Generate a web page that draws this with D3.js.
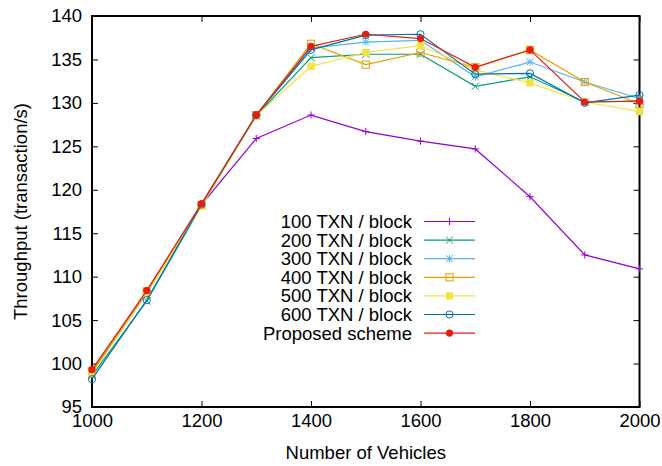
<!DOCTYPE html>
<html>
<head>
<meta charset="utf-8">
<script src="https://cdn.jsdelivr.net/npm/d3@7"></script>
<style>
    body { margin: 0; background: #fff; }
    svg text { font-family: "Liberation Sans", Arial, sans-serif; font-size: 18.5px; fill: #000; }
</style>
</head>
<body>
<div id="chart"></div>
<script>
// chart data
const vehicles = [1000, 1100, 1200, 1300, 1400, 1500, 1600, 1700, 1800, 1900, 2000];
const txn100 = [99.0, 108.2, 118.3, 125.9, 128.6, 126.7, 125.6, 124.7, 119.2, 112.5, 110.9];
const txn200 = [98.6, 107.2, 118.2, 128.5, 135.2, 135.6, 135.6, 131.9, 133.0, 130.1, 130.2];
const txn300 = [98.9, 108.1, 118.3, 128.6, 136.3, 137.0, 137.2, 133.0, 134.7, 132.4, 130.5];
const txn400 = [99.1, 108.3, 118.2, 128.6, 136.8, 134.4, 135.8, 134.1, 136.1, 132.4, 129.9];
const txn500 = [98.8, 108.0, 118.1, 128.5, 134.2, 135.8, 136.6, 133.8, 132.3, 130.1, 129.0];
const txn600 = [98.2, 107.3, 118.3, 128.6, 136.1, 137.8, 137.9, 133.3, 133.4, 130.0, 130.9];
const proposed = [99.3, 108.4, 118.4, 128.6, 136.5, 137.9, 137.4, 134.1, 136.1, 130.1, 130.2];

const seriesNames = ["100 TXN / block", "200 TXN / block", "300 TXN / block", "400 TXN / block",
    "500 TXN / block", "600 TXN / block", "Proposed scheme"];
const xTicks = [1000, 1200, 1400, 1600, 1800, 2000];
const yTicks = [95, 100, 105, 110, 115, 120, 125, 130, 135, 140];

const series = [
    { name: seriesNames[0], values: txn100, color: "#9400d3", marker: "plus" },
    { name: seriesNames[1], values: txn200, color: "#009e73", marker: "cross" },
    { name: seriesNames[2], values: txn300, color: "#56b4e9", marker: "star" },
    { name: seriesNames[3], values: txn400, color: "#e69f00", marker: "square" },
    { name: seriesNames[4], values: txn500, color: "#f0e442", marker: "squareFilled" },
    { name: seriesNames[5], values: txn600, color: "#0072b2", marker: "circle" },
    { name: seriesNames[6], values: proposed, color: "#e51e10", marker: "circleFilled" }
];

const W = 662, H = 466;
const margin = { top: 16, right: 22.5, bottom: 59, left: 92 };
const width = W - margin.left - margin.right;
const height = H - margin.top - margin.bottom;

const svg = d3.select("#chart").append("svg")
    .attr("width", W)
    .attr("height", H);

const g = svg.append("g")
    .attr("transform", "translate(" + margin.left + "," + margin.top + ")");

const x = d3.scaleLinear().domain([1000, 2000]).range([0, width]);
const y = d3.scaleLinear().domain([95, 140]).range([height, 0]);

// axes, ticks pointing inward, mirrored on top and right
const tickLen = 6;
g.append("g").attr("class", "x axis")
    .attr("transform", "translate(0," + height + ")")
    .call(d3.axisBottom(x).tickValues(xTicks).tickSizeInner(-tickLen).tickSizeOuter(0).tickPadding(7).tickFormat(d3.format("d")));
g.append("g").attr("class", "x2 axis")
    .call(d3.axisTop(x).tickValues(xTicks).tickSizeInner(-tickLen).tickSizeOuter(0).tickFormat(""));
g.append("g").attr("class", "y axis")
    .call(d3.axisLeft(y).tickValues(yTicks).tickSizeInner(-tickLen).tickSizeOuter(0).tickPadding(10));
g.append("g").attr("class", "y2 axis")
    .attr("transform", "translate(" + width + ",0)")
    .call(d3.axisRight(y).tickValues(yTicks).tickSizeInner(-tickLen).tickSizeOuter(0).tickFormat(""));

g.selectAll(".axis .domain").remove();
g.selectAll(".axis line").attr("stroke", "#000").attr("stroke-width", 1);
g.selectAll(".axis text").attr("font-size", null).attr("font-family", null);

// frame
g.append("rect")
    .attr("width", width)
    .attr("height", height)
    .attr("fill", "none")
    .attr("stroke", "#000")
    .attr("stroke-width", 2);

// axis titles
svg.append("text")
    .attr("x", margin.left + width / 2)
    .attr("y", 459)
    .attr("text-anchor", "middle")
    .text("Number of Vehicles");

svg.append("text")
    .attr("transform", "translate(27," + (margin.top + height / 2) + ") rotate(-90)")
    .attr("text-anchor", "middle")
    .text("Throughput (transaction/s)");

// marker drawing
function drawMarker(sel, type, color) {
    const s = 3.6;
    if (type === "plus") {
        sel.append("path").attr("d", `M${-s},0H${s}M0,${-s}V${s}`).attr("stroke", color).attr("stroke-width", 1).attr("fill", "none");
    } else if (type === "cross") {
        sel.append("path").attr("d", `M${-s},${-s}L${s},${s}M${-s},${s}L${s},${-s}`).attr("stroke", color).attr("stroke-width", 1).attr("fill", "none");
    } else if (type === "star") {
        sel.append("path").attr("d", `M${-s},0H${s}M0,${-s}V${s}M${-s},${-s}L${s},${s}M${-s},${s}L${s},${-s}`).attr("stroke", color).attr("stroke-width", 1).attr("fill", "none");
    } else if (type === "square") {
        sel.append("rect").attr("x", -s).attr("y", -s).attr("width", 2 * s).attr("height", 2 * s).attr("stroke", color).attr("stroke-width", 1).attr("fill", "none");
    } else if (type === "squareFilled") {
        sel.append("rect").attr("x", -s).attr("y", -s).attr("width", 2 * s).attr("height", 2 * s).attr("fill", color);
    } else if (type === "circle") {
        sel.append("circle").attr("r", s).attr("stroke", color).attr("stroke-width", 1).attr("fill", "none");
    } else if (type === "circleFilled") {
        sel.append("circle").attr("r", s).attr("fill", color);
    }
}

const line = d3.line()
    .x((d, i) => x(vehicles[i]))
    .y(d => y(d));

series.forEach(s => {
    const sg = g.append("g").attr("class", "series");
    sg.append("path")
        .attr("d", line(s.values))
        .attr("fill", "none")
        .attr("stroke", s.color)
        .attr("stroke-width", 1.2);
    s.values.forEach((v, i) => {
        const m = sg.append("g").attr("transform", "translate(" + x(vehicles[i]) + "," + y(v) + ")");
        drawMarker(m, s.marker, s.color);
    });
});

// legend
const legend = svg.append("g").attr("class", "legend");
series.forEach((s, i) => {
    const ly = 221.5 + i * 18.6;
    legend.append("text")
        .attr("x", 412)
        .attr("y", ly)
        .attr("dy", "0.35em")
        .attr("text-anchor", "end")
        .text(s.name);
    legend.append("line")
        .attr("x1", 424).attr("x2", 475)
        .attr("y1", ly).attr("y2", ly)
        .attr("stroke", s.color)
        .attr("stroke-width", 1.2);
    const m = legend.append("g").attr("transform", "translate(449.5," + ly + ")");
    drawMarker(m, s.marker, s.color);
});
</script>
</body>
</html>
